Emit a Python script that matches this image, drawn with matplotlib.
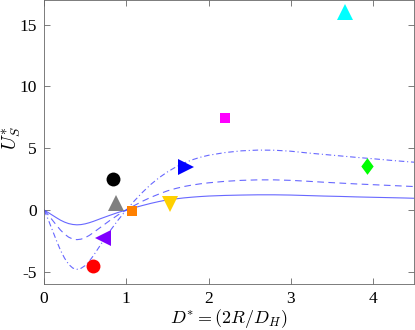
import matplotlib.pyplot as plt
from matplotlib.path import Path

plt.rcParams["font.family"] = ["Liberation Serif", "DejaVu Serif"]
plt.rcParams["mathtext.fontset"] = "cm"
plt.rcParams["axes.unicode_minus"] = False

# model curves
d_star = [0, 0.05, 0.1, 0.15, 0.2, 0.25, 0.3, 0.35, 0.4, 0.45, 0.5, 0.55, 0.6,
          0.7, 0.8, 0.9, 1.0, 1.1, 1.2, 1.3, 1.4, 1.5, 1.6, 1.7, 1.8, 1.9, 2.0,
          2.2, 2.4, 2.6, 2.8, 3.0, 3.2, 3.4, 3.6, 3.8, 4.0, 4.2, 4.4, 4.5]
u_solid = [0, -0.2, -0.41, -0.62, -0.82, -0.98, -1.1, -1.17, -1.2, -1.18, -1.12,
           -1.03, -0.92, -0.67, -0.43, -0.2, 0.0, 0.19, 0.37, 0.54, 0.69, 0.82,
           0.9, 0.98, 1.04, 1.09, 1.13, 1.18, 1.21, 1.23, 1.23, 1.21, 1.17, 1.13,
           1.1, 1.06, 1.03, 1.0, 0.97, 0.95]
u_dashed = [0, -0.38, -0.8, -1.22, -1.62, -1.95, -2.2, -2.35, -2.4, -2.36, -2.24,
            -2.06, -1.83, -1.34, -0.85, -0.4, 0.0, 0.37, 0.72, 1.03, 1.3, 1.55,
            1.74, 1.9, 2.02, 2.12, 2.2, 2.32, 2.4, 2.44, 2.44, 2.4, 2.33, 2.25,
            2.18, 2.11, 2.05, 1.99, 1.93, 1.9]
u_dashdot = [0, -0.75, -1.6, -2.45, -3.25, -3.9, -4.4, -4.7, -4.8, -4.72, -4.5,
             -4.15, -3.7, -2.7, -1.72, -0.82, 0.0, 0.75, 1.45, 2.08, 2.62, 3.08,
             3.47, 3.8, 4.06, 4.27, 4.43, 4.65, 4.79, 4.85, 4.84, 4.76, 4.62,
             4.5, 4.38, 4.26, 4.15, 4.03, 3.92, 3.87]

# measured points
pt_x = [0.60, 0.84, 0.88, 0.72, 1.07, 1.53, 1.73, 2.20, 3.66, 3.93]
pt_y = [-4.5, 2.5, 0.55, -2.3, -0.1, 0.5, 3.45, 7.45, 16.0, 3.55]
pt_marker = ["o", "o", "^", "<", "s", "v", ">", "s", "^", "diamond"]
pt_color = ["#ff0000", "#000000", "#808080", "#8000ff", "#ff8000",
            "#ffd000", "#0000ff", "#ff00ff", "#00ffff", "#00ff00"]
pt_size = [10, 10, 11, 11, 7.5, 11, 11, 7.5, 11, 12]

# MATLAB-style diamond: taller than it is wide
diamond = Path([(0, 1), (0.74, 0), (0, -1), (-0.74, 0), (0, 1)],
               [Path.MOVETO, Path.LINETO, Path.LINETO, Path.LINETO, Path.CLOSEPOLY])

fig = plt.figure(figsize=(4.15, 3.3), dpi=100)
ax = fig.add_axes([0.106, 0.139, 0.892, 0.861])

line_kw = dict(color="#4d4dff", lw=0.8, alpha=0.85)
ax.plot(d_star, u_solid, "-", **line_kw)
ax.plot(d_star, u_dashed, linestyle=(0, (6, 4)), **line_kw)
ax.plot(d_star, u_dashdot, linestyle=(0, (5, 2.5, 1, 2.5)), **line_kw)

for x, y, m, c, s in zip(pt_x, pt_y, pt_marker, pt_color, pt_size):
    if m == "diamond":
        m = diamond
    ax.plot(x, y, marker=m, color=c, markersize=s, linestyle="none",
            markeredgewidth=0)

ax.set_xlim(0, 4.5)
ax.set_ylim(-6, 17)
ax.set_xticks([0, 1, 2, 3, 4])
ax.set_yticks([-5, 0, 5, 10, 15])
ax.tick_params(direction="in", top=True, right=True, length=4, width=0.6,
               color="#666666", labelsize=12.5, pad=5)
for sp in ax.spines.values():
    sp.set_color("#666666")
    sp.set_linewidth(0.6)

ax.set_xlabel(r"$D^{*} = (2R/D_H)$", fontsize=13)
ax.set_ylabel(r"$U_S^{*}$", fontsize=14)
ax.xaxis.set_label_coords(0.5, -0.08)
ax.yaxis.set_label_coords(-0.058, 0.515)

fig.savefig("out.png", dpi=100)
